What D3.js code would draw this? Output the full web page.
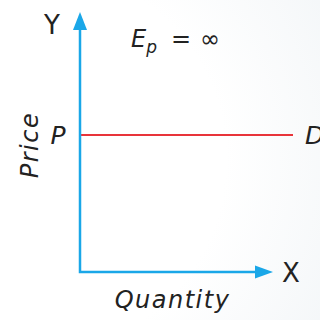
<meta charset="utf-8">
<script src="https://cdn.jsdelivr.net/npm/d3@7"></script>
<style>
  body { margin: 0; background: #fff; }
  text { font-family: "DejaVu Sans"; fill: #222; }
</style>
<div id="chart"></div>
<script>
// axis extents and demand curve (quantity, price) in chart units
var xAxisEnd = 96.5
var yAxisEnd = 100
var priceLevel = 52.7
var demandQ = [0, 106.5]
var demandP = [priceLevel, priceLevel]

var width = 320, height = 320

var svg = d3.select("#chart").append("svg")
  .attr("width", width).attr("height", height)

var defs = svg.append("defs")
var grad = defs.append("radialGradient").attr("id", "bg")
  .attr("cx", "0.1").attr("cy", "0.5").attr("r", "1.1")
grad.append("stop").attr("offset", "0.55").attr("stop-color", "#ffffff")
grad.append("stop").attr("offset", "1").attr("stop-color", "#f3f6f8")
svg.append("rect").attr("width", width).attr("height", height).attr("fill", "url(#bg)")

var x = d3.scaleLinear().domain([0, 100]).range([80, 280])
var y = d3.scaleLinear().domain([0, 100]).range([272, 12])

var blue = "#1aa7e8"

// demand line
var line = d3.line().x(d => x(d[0])).y(d => y(d[1]))
svg.append("path")
  .datum(d3.zip(demandQ, demandP))
  .attr("d", line)
  .attr("stroke", "#e8343a").attr("stroke-width", 2).attr("fill", "none")

// axes
svg.append("path")
  .attr("d", line([[0, yAxisEnd - 6.5], [0, 0], [xAxisEnd - 8.5, 0]]))
  .attr("stroke", blue).attr("stroke-width", 2.5).attr("fill", "none")

// arrow heads
var tipY = [x(0), y(yAxisEnd)]
svg.append("path")
  .attr("d", `M${tipY[0]},${tipY[1]} L${tipY[0] - 7},${tipY[1] + 18} L${tipY[0] + 7},${tipY[1] + 18} Z`)
  .attr("fill", blue)
var tipX = [x(xAxisEnd), y(0)]
svg.append("path")
  .attr("d", `M${tipX[0]},${tipX[1]} L${tipX[0] - 18},${tipX[1] - 6.5} L${tipX[0] - 18},${tipX[1] + 6.5} Z`)
  .attr("fill", blue)

// labels
svg.append("text").attr("x", 52).attr("y", 34).attr("text-anchor", "middle")
  .attr("font-size", 26).text("Y")
svg.append("text").attr("x", 291).attr("y", 282).attr("text-anchor", "middle")
  .attr("font-size", 26).text("X")
svg.append("text").attr("x", 58).attr("y", y(priceLevel) + 9).attr("text-anchor", "middle")
  .attr("font-size", 25).attr("font-style", "italic").text("P")
// the D is partly cut by the right edge in the reference as well
svg.append("text").attr("x", 305).attr("y", y(priceLevel) + 9)
  .attr("font-size", 25).attr("font-style", "italic").text("D")

var ep = svg.append("text").attr("x", 131).attr("y", 47).attr("font-size", 24)
ep.append("tspan").attr("font-style", "italic").text("E")
ep.append("tspan").attr("font-style", "italic").attr("font-size", 17).attr("dy", 6).text("p")
ep.append("tspan").attr("dy", -6).attr("x", 171).text("=")
ep.append("tspan").attr("x", 200).text("∞")

svg.append("text").attr("x", x(xAxisEnd / 2) - 4).attr("y", 308).attr("text-anchor", "middle")
  .attr("font-size", 24).attr("font-style", "italic").attr("letter-spacing", 1.5).text("Quantity")

svg.append("text").attr("transform", "translate(38,145) rotate(-90)")
  .attr("text-anchor", "middle").attr("font-size", 24).attr("font-style", "italic")
  .attr("letter-spacing", 1.5).text("Price")
</script>
